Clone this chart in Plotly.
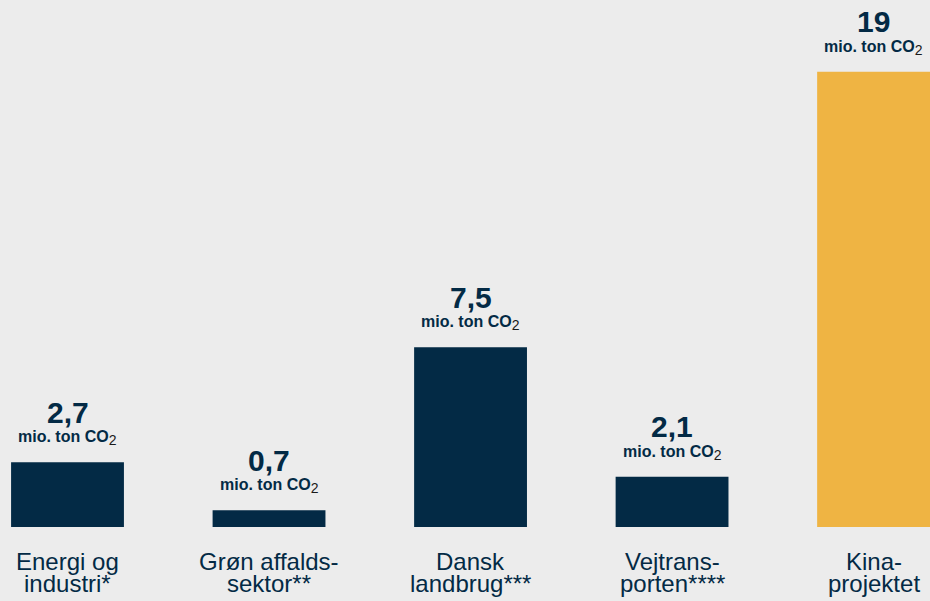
import plotly.graph_objects as go

categories = ["Energi og<br>industri*", "Grøn affalds-<br>sektor**", "Dansk<br>landbrug***",
              "Vejtrans-<br>porten****", "Kina-<br>projektet"]
values = [2.7, 0.7, 7.5, 2.1, 19]
value_labels = ["2,7", "0,7", "7,5", "2,1", "19"]
unit_label = "mio. ton CO"

NAVY = "#032a45"
GOLD = "#efb443"
BG = "#ececec"
FONT = "Liberation Sans, Arial, sans-serif"

x = list(range(len(categories)))
colors = [NAVY] * (len(values) - 1) + [GOLD]

fig = go.Figure(go.Bar(x=x, y=values, marker=dict(color=colors, line=dict(width=0)),
                       width=0.56, hoverinfo="skip"))

ann = []
for i, (v, lab, cat) in enumerate(zip(values, value_labels, categories)):
    ann.append(dict(x=i, y=v, text=f"<b>{lab}</b>", showarrow=False, yanchor="middle",
                    yshift=50, font=dict(family=FONT, size=30, color=NAVY)))
    ann.append(dict(x=i, y=v,
                    text=f"<b>{unit_label}</b><sub><span style='font-size:14px;color:#1a1a1a'>2</span></sub>",
                    showarrow=False, yanchor="middle", yshift=24,
                    font=dict(family=FONT, size=16, color=NAVY)))
    lines = cat.split("<br>")
    for j, line in enumerate(lines):
        ann.append(dict(x=i, y=0, text=line, showarrow=False, yanchor="middle",
                        yshift=-34 - 22 * j, font=dict(family=FONT, size=24, color=NAVY)))

fig.update_layout(
    width=930, height=601,
    margin=dict(l=0, r=0, t=0, b=74, pad=0),
    paper_bgcolor=BG, plot_bgcolor=BG,
    showlegend=False,
    annotations=ann,
    xaxis=dict(range=[-0.335, 4.28], showgrid=False, zeroline=False, showticklabels=False,
               showline=False, fixedrange=True),
    yaxis=dict(range=[0, 22], showgrid=False, zeroline=False, showticklabels=False,
               showline=False, fixedrange=True),
)

fig.write_html("out.html", config={"displayModeBar": False},
               post_script="document.body.style.margin='0';document.body.style.overflow='hidden';")
